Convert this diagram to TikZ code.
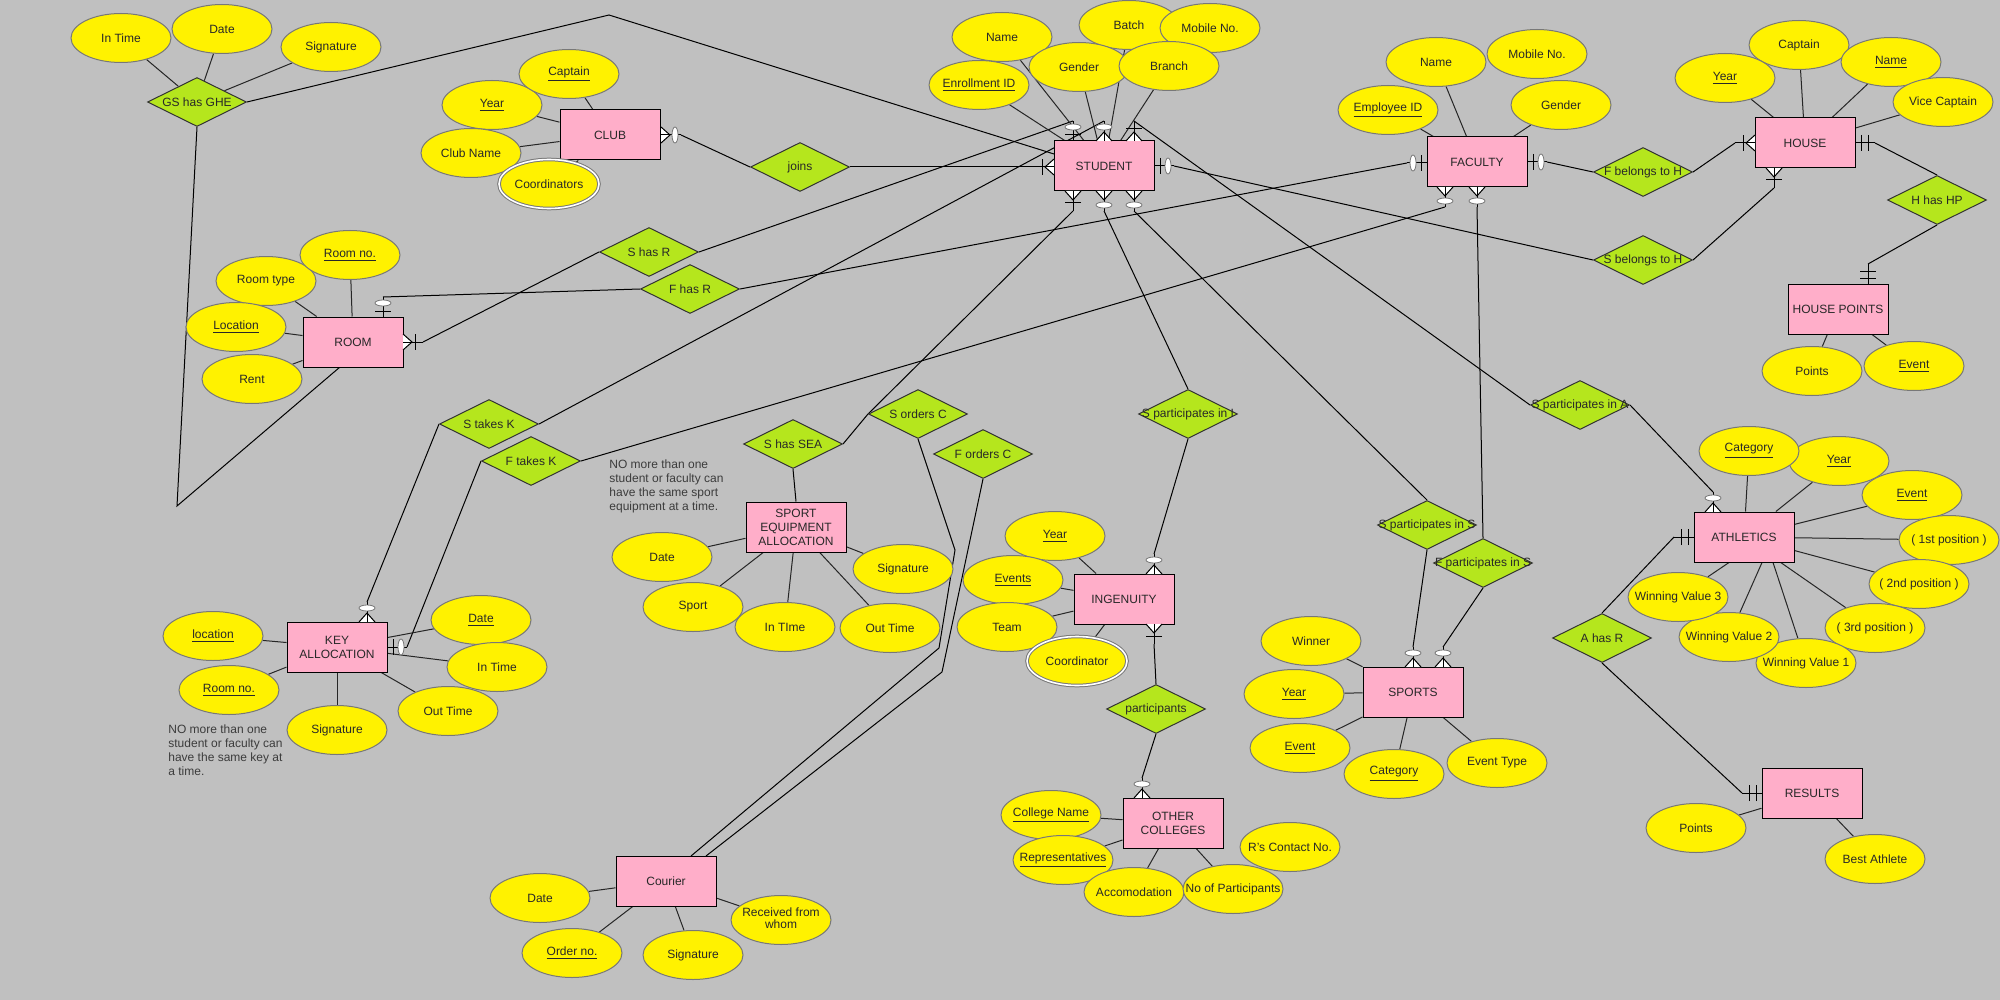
\documentclass[tikz,border=0pt]{standalone}
\usepackage{fontspec}
\setmainfont{Liberation Sans}
\usetikzlibrary{shapes.geometric}
\definecolor{bgc}{RGB}{192,192,192}
\definecolor{attrc}{RGB}{255,242,0}
\definecolor{relc}{RGB}{181,230,29}
\definecolor{entc}{RGB}{255,174,201}
\definecolor{txtc}{RGB}{40,40,40}
\definecolor{notec}{RGB}{60,60,60}
\definecolor{ovc}{RGB}{120,120,120}
\pgfdeclarelayer{bg}
\pgfsetlayers{bg,main}
\newcommand\zt[1]{\makebox[0pt]{#1}}
\tikzset{
  every node/.style={font=\fontsize{6pt}{7pt}\selectfont, text=txtc},
  ent/.style={rectangle, draw=black, line width=0.5pt, fill=entc, minimum width=50pt, minimum height=25pt, inner sep=0pt, align=center},
  attr/.style={ellipse, draw=ovc, line width=0.5pt, fill=attrc, minimum width=50pt, minimum height=24.5pt, inner sep=0pt},
  mattr/.style={attr, double=white, double distance=0.8pt},
  rel/.style={diamond, draw=black!80, line width=0.5pt, fill=relc, minimum width=49.5pt, minimum height=24.5pt, inner sep=0pt, aspect=2},
  conn/.style={draw=black, line width=0.5pt},
  aline/.style={draw=black!85, line width=0.5pt},
  note/.style={align=left, anchor=north west, inner sep=0pt, text=notec},
  mkline/.style={draw=black, line width=0.5pt},
  mkoval/.style={draw=ovc, fill=white, line width=0.4pt},
  pics/zm/.style={code={
    \fill[white] (-8,0) -- (0,-9) -- (8,0) -- cycle;
    \draw[mkline] (-8,0) -- (0,-9) -- (8,0);
    \draw[mkline] (0,0) -- (0,-20);
    \draw[mkoval] (0,-14) ellipse (8 and 3);
    \coordinate (-e) at (0,-20);
  }},
  pics/om/.style={code={
    \fill[white] (-8,0) -- (0,-9) -- (8,0) -- cycle;
    \draw[mkline] (-8,0) -- (0,-9) -- (8,0);
    \draw[mkline] (0,0) -- (0,-20);
    \draw[mkline] (-8,-12) -- (8,-12);
    \coordinate (-e) at (0,-20);
  }},
  pics/zo/.style={code={
    \draw[mkline] (0,0) -- (0,-20);
    \draw[mkline] (-8,-6) -- (8,-6);
    \draw[mkoval] (0,-14) ellipse (8 and 3);
    \coordinate (-e) at (0,-20);
  }},
  pics/oo/.style={code={
    \draw[mkline] (0,0) -- (0,-20);
    \draw[mkline] (-8,-6) -- (8,-6);
    \draw[mkline] (-8,-13) -- (8,-13);
    \coordinate (-e) at (0,-20);
  }},
}
\begin{document}
\begin{tikzpicture}[x=0.5pt,y=-0.5pt]
\useasboundingbox (0,0) rectangle (2000,1000);
\begin{pgfonlayer}{bg}
\fill[bgc] (0,0) rectangle (2000,1000);
\end{pgfonlayer}

% ---------- entities ----------
\node[ent] (club) at (610,135) {CLUB};
\node[ent] (student) at (1104,166) {STUDENT};
\node[ent] (faculty) at (1477,162) {FACULTY};
\node[ent] (house) at (1805,143) {HOUSE};
\node[ent] (hpts) at (1838,309) {HOUSE POINTS};
\node[ent] (room) at (353,342) {ROOM};
\node[ent] (key) at (337,647) {KEY\\ALLOCATION};
\node[ent] (sea) at (796,527) {SPORT\\EQUIPMENT\\ALLOCATION};
\node[ent] (ing) at (1124,599) {INGENUITY};
\node[ent] (sports) at (1413,692) {SPORTS};
\node[ent] (ath) at (1744,537) {ATHLETICS};
\node[ent] (res) at (1812,793) {RESULTS};
\node[ent] (oc) at (1173,823) {OTHER\\COLLEGES};
\node[ent] (cour) at (666,881) {Courier};

% ---------- relationships ----------
\node[rel] (gs) at (197,102) {\zt{GS has GHE}};
\node[rel] (joins) at (800,167) {\zt{joins}};
\node[rel] (shr) at (649,252) {\zt{S has R}};
\node[rel] (fhr) at (690,289) {\zt{F has R}};
\node[rel] (stk) at (489,424) {\zt{S takes K}};
\node[rel] (ftk) at (531,461) {\zt{F takes K}};
\node[rel] (shs) at (793,444) {\zt{S has SEA}};
\node[rel] (soc) at (918,414) {\zt{S orders C}};
\node[rel] (foc) at (983,454) {\zt{F orders C}};
\node[rel] (spi) at (1188,414) {\zt{S participates in I}};
\node[rel] (sps) at (1427,525) {\zt{S participates in S}};
\node[rel] (fps) at (1483,563) {\zt{F participates in S}};
\node[rel] (parts) at (1156,709) {\zt{participants}};
\node[rel] (fbh) at (1643,172) {\zt{F belongs to H}};
\node[rel] (sbh) at (1643,260) {\zt{S belongs to H}};
\node[rel] (hhp) at (1937,200) {\zt{H has HP}};
\node[rel] (spa) at (1580,405) {\zt{S participates in A}};
\node[rel] (ahr) at (1602,638) {\zt{A has R}};

% ---------- attributes ----------
% GS has GHE
\node[attr] (gin) at (121,38) {\zt{In Time}};
\node[attr] (gdt) at (222,29) {\zt{Date}};
\node[attr] (gsg) at (331,47) {\zt{Signature}};
% CLUB
\node[attr] (cyr) at (492,105) {\zt{\underline{Year}}};
\node[attr] (ccp) at (569,74) {\zt{\underline{Captain}}};
\node[attr] (cnm) at (471,153) {\zt{Club Name}};
\node[mattr] (ccd) at (549,184) {\zt{Coordinators}};
% ROOM
\node[attr] (rty) at (266,281) {\zt{Room type}};
\node[attr] (rno) at (350,255) {\zt{\underline{Room no.}}};
\node[attr] (rlc) at (236,327) {\zt{\underline{Location}}};
\node[attr] (rrt) at (252,379) {\zt{Rent}};
% STUDENT
\node[attr] (snm) at (1002,37) {\zt{Name}};
\node[attr] (sen) at (979,85) {\zt{\underline{Enrollment ID}}};
\node[attr] (sbt) at (1129,25) {\zt{Batch}};
\node[attr] (smb) at (1210,28) {\zt{Mobile No.}};
\node[attr] (sgd) at (1079,67) {\zt{Gender}};
\node[attr] (sbr) at (1169,66) {\zt{Branch}};
% FACULTY
\node[attr] (fnm) at (1436,62) {\zt{Name}};
\node[attr] (fem) at (1388,110) {\zt{\underline{Employee ID}}};
\node[attr] (fmb) at (1537,54) {\zt{Mobile No.}};
\node[attr] (fgd) at (1561,105) {\zt{Gender}};
% HOUSE
\node[attr] (hcp) at (1799,45) {\zt{Captain}};
\node[attr] (hyr) at (1725,78) {\zt{\underline{Year}}};
\node[attr] (hnm) at (1891,62) {\zt{\underline{Name}}};
\node[attr] (hvc) at (1943,102) {\zt{Vice Captain}};
% HOUSE POINTS
\node[attr] (hpp) at (1812,371) {\zt{Points}};
\node[attr] (hpe) at (1914,366) {\zt{\underline{Event}}};
% KEY ALLOCATION
\node[attr] (klc) at (213,636) {\zt{\underline{location}}};
\node[attr] (krn) at (229,690) {\zt{\underline{Room no.}}};
\node[attr] (ksg) at (337,730) {\zt{Signature}};
\node[attr] (kot) at (448,711) {\zt{Out Time}};
\node[attr] (kdt) at (481,620) {\zt{\underline{Date}}};
\node[attr] (kit) at (497,667) {\zt{In Time}};
% SPORT EQUIPMENT ALLOCATION
\node[attr] (edt) at (662,557) {\zt{Date}};
\node[attr] (esp) at (693,607) {\zt{Sport}};
\node[attr] (eit) at (785,627) {\zt{In TIme}};
\node[attr] (eot) at (890,628) {\zt{Out Time}};
\node[attr] (esg) at (903,569) {\zt{Signature}};
% INGENUITY
\node[attr] (iyr) at (1055,536) {\zt{\underline{Year}}};
\node[attr] (iev) at (1013,580) {\zt{\underline{Events}}};
\node[attr] (itm) at (1007,627) {\zt{Team}};
\node[mattr] (icd) at (1077,661) {\zt{Coordinator}};
% SPORTS
\node[attr] (swn) at (1311,641) {\zt{Winner}};
\node[attr] (syr) at (1294,694) {\zt{\underline{Year}}};
\node[attr] (sev) at (1300,748) {\zt{\underline{Event}}};
\node[attr] (sct) at (1394,774) {\zt{\underline{Category}}};
\node[attr] (stp) at (1497,763) {\zt{Event Type}};
% OTHER COLLEGES
\node[attr] (ocn) at (1051,815) {\zt{\underline{College Name}}};
\node[attr] (orp) at (1063,860) {\zt{\underline{Representatives}}};
\node[attr] (oac) at (1134,892) {\zt{Accomodation}};
\node[attr] (orc) at (1290,847) {\zt{R's Contact No.}};
\node[attr] (onp) at (1233,889) {\zt{No of Participants}};
% ATHLETICS
\node[attr] (ayr) at (1839,461) {\zt{\underline{Year}}};
\node[attr] (act) at (1749,451) {\zt{\underline{Category}}};
\node[attr] (aev) at (1912,495) {\zt{\underline{Event}}};
\node[attr] (ap1) at (1949,540) {\zt{( 1st position )}};
\node[attr] (ap2) at (1919,584) {\zt{( 2nd position )}};
\node[attr] (ap3) at (1875,628) {\zt{( 3rd position )}};
\node[attr] (wv1) at (1806,663) {\zt{Winning Value 1}};
\node[attr] (wv2) at (1729,637) {\zt{Winning Value 2}};
\node[attr] (wv3) at (1678,597) {\zt{Winning Value 3}};
% RESULTS
\node[attr] (rpt) at (1696,828) {\zt{Points}};
\node[attr] (rba) at (1875,859) {\zt{Best Athlete}};
% Courier
\node[attr] (cdt) at (540,898) {\zt{Date}};
\node[attr] (cor) at (572,953) {\zt{\underline{Order no.}}};
\node[attr] (csg) at (693,955) {\zt{Signature}};
\node[attr] (crw) at (781,920) {\zt{\begin{tabular}{@{}c@{}}Received from\\[-1pt]whom\end{tabular}}};

% ---------- notes ----------
\node[note] (note1) at (609,459) {NO more than one\\student or faculty can\\have the same sport\\equipment at a time.};
\node[note] (note2) at (168,724) {NO more than one\\student or faculty can\\have the same key at\\a time.};

% ---------- cardinality markers ----------
\pic[rotate=-90] (clubr) at (661,135) {zm};
\pic[rotate=90] (stl) at (1054,167) {om};
\pic (stt1) at (1073,141) {zo};
\pic (stt2) at (1104,141) {zm};
\pic (stt3) at (1134,141) {om};
\pic[rotate=180] (stb1) at (1073,191) {om};
\pic[rotate=180] (stb2) at (1104,191) {zm};
\pic[rotate=180] (stb3) at (1134,191) {zm};
\pic[rotate=-90] (str) at (1154,166) {zo};
\pic[rotate=90] (fal) at (1427,163) {zo};
\pic[rotate=-90] (far) at (1527,162) {zo};
\pic[rotate=180] (fab1) at (1445,187) {zm};
\pic[rotate=180] (fab2) at (1477,187) {zm};
\pic[rotate=90] (hol) at (1755,143) {om};
\pic[rotate=180] (hob) at (1774,168) {om};
\pic[rotate=-90] (hor) at (1855,143) {oo};
\pic (hpt) at (1868,284) {oo};
\pic (att) at (1713,512) {zm};
\pic[rotate=90] (atl) at (1694,537) {oo};
\pic[rotate=90] (rsl) at (1762,793) {oo};
\pic (rmt) at (383,317) {zo};
\pic[rotate=-90] (rmr) at (403,342) {om};
\pic (kyt) at (367,622) {zm};
\pic[rotate=-90] (kyr) at (387,647) {zo};
\pic (ingt) at (1154,574) {zm};
\pic[rotate=180] (ingb) at (1154,624) {om};
\pic (oct) at (1142,798) {zm};
\pic (spt1) at (1413,667) {zm};
\pic (spt2) at (1443,667) {zm};

% ---------- bend / end points ----------
\coordinate (gsb1) at (609,15);
\coordinate (gsb2) at (177,506);
\coordinate (stgs) at (1054,154);
\coordinate (roomb) at (340,367);
\coordinate (socb1) at (955,550);
\coordinate (socb2) at (939,648);
\coordinate (focb1) at (942,672);
\coordinate (courA) at (691,856);
\coordinate (courB) at (706,856);

% ---------- connectors ----------
\begin{pgfonlayer}{bg}
\draw[conn] (gs.east) -- (gsb1) -- (stgs);
\draw[conn] (gs.south) -- (gsb2) -- (roomb);
\draw[conn] (clubr-e) -- (joins.west);
\draw[conn] (joins.east) -- (stl-e);
\draw[conn] (shr.west) -- (rmr-e);
\draw[conn] (shr.east) -- (stt1-e);
\draw[conn] (rmt-e) -- (fhr.west);
\draw[conn] (fhr.east) -- (fal-e);
\draw[conn] (stk.east) -- (stt2-e);
\draw[conn] (stk.west) -- (kyt-e);
\draw[conn] (ftk.east) -- (fab1-e);
\draw[conn] (ftk.west) -- (kyr-e);
\draw[conn] (shs.east) -- (soc.west) -- (stb1-e);
\draw[conn] (shs.south) -- (sea.north);
\draw[conn] (soc.south) -- (socb1) -- (socb2) -- (courA);
\draw[conn] (foc.south) -- (focb1) -- (courB);
\draw[conn] (spi.north) -- (stb2-e);
\draw[conn] (spi.south) -- (ingt-e);
\draw[conn] (sps.north) -- (stb3-e);
\draw[conn] (sps.south) -- (spt1-e);
\draw[conn] (fps.north) -- (fab2-e);
\draw[conn] (fps.south) -- (spt2-e);
\draw[conn] (ingb-e) -- (parts.north);
\draw[conn] (parts.south) -- (oct-e);
\draw[conn] (far-e) -- (fbh.west);
\draw[conn] (fbh.east) -- (hol-e);
\draw[conn] (str-e) -- (sbh.west);
\draw[conn] (sbh.east) -- (hob-e);
\draw[conn] (hor-e) -- (hhp.north);
\draw[conn] (hhp.south) -- (hpt-e);
\draw[conn] (stt3-e) -- (spa.west);
\draw[conn] (spa.east) -- (att-e);
\draw[conn] (atl-e) -- (ahr.north);
\draw[conn] (ahr.south) -- (rsl-e);

% attribute lines
\foreach \a in {gin,gdt,gsg} \draw[aline] (\a) -- (gs);
\foreach \a in {cyr,ccp,cnm,ccd} \draw[aline] (\a) -- (club);
\foreach \a in {rty,rno,rlc,rrt} \draw[aline] (\a) -- (room);
\foreach \a in {snm,sen,sgd,sbt,sbr} \draw[aline] (\a) -- (student);
\foreach \a in {fnm,fem} \draw[aline] (\a) -- (faculty);
\draw[aline] (fgd) -- ([xshift=-7pt]faculty.north east);
\foreach \a in {hcp,hyr,hnm,hvc} \draw[aline] (\a) -- (house);
\foreach \a in {hpp,hpe} \draw[aline] (\a) -- (hpts);
\foreach \a in {klc,krn,ksg,kot,kdt,kit} \draw[aline] (\a) -- (key);
\foreach \a in {edt,esp,eit,eot,esg} \draw[aline] (\a) -- (sea);
\foreach \a in {iyr,iev,itm,icd} \draw[aline] (\a) -- (ing);
\foreach \a in {swn,syr,sev,sct,stp} \draw[aline] (\a) -- (sports);
\foreach \a in {ocn,orp,oac,onp} \draw[aline] (\a) -- (oc);
\foreach \a in {ayr,act,aev,ap1,ap2,ap3} \draw[aline] (\a) -- (ath);
\draw[aline] (wv3) -- ([xshift=-7.5pt]ath.south);
\draw[aline] (wv2) -- ([xshift=9pt]ath.south);
\draw[aline] (wv1) -- ([xshift=14.5pt]ath.south);
\foreach \a in {rpt,rba} \draw[aline] (\a) -- (res);
\foreach \a in {cdt,cor,csg,crw} \draw[aline] (\a) -- (cour);
\end{pgfonlayer}
\end{tikzpicture}
\end{document}
